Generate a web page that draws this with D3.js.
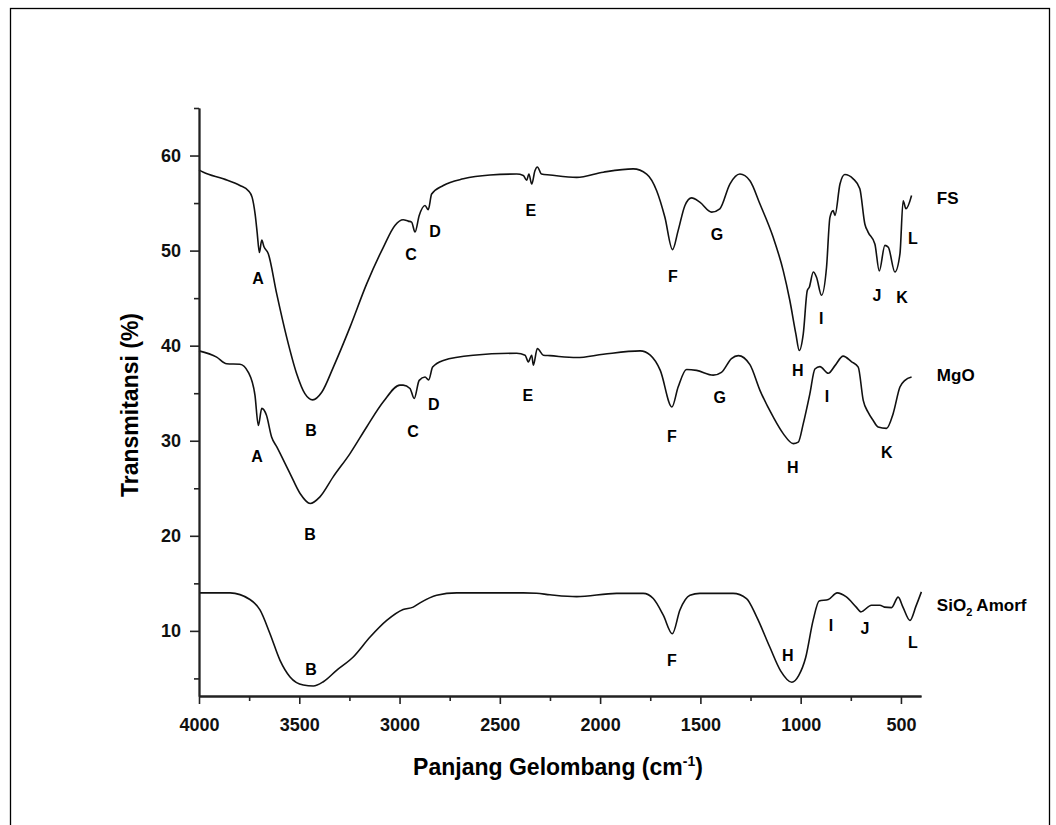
<!DOCTYPE html>
<html>
<head>
<meta charset="utf-8">
<script src="https://cdn.jsdelivr.net/npm/d3@7"></script>
<style>
  body { margin: 0; background: #fff; }
  svg { display: block; font-family: "Liberation Sans", Arial, sans-serif; }
</style>
</head>
<body>
<div id="chart"></div>
<script>
// ---------------- data (wavenumber cm-1, transmittance %) ----------------
var fsData = [
  [4000,58.5],[3978,58.25],[3879,57.55],[3796,56.85],[3754,56.3],[3735,55.6],[3720,53.8],[3710,51.9],
  [3699,49.8],[3687,51.1],[3676,50.4],[3655,49.7],[3613,45.5],[3563,40.9],[3513,37.05],
  [3472,34.95],[3433,34.3],[3388,35.1],[3330,37.75],[3247,41.95],[3164,46.5],[3081,50.35],
  [3023,52.65],[2982,53.25],[2957,53.1],[2940,53.0],[2923,51.95],[2902,53.7],[2873,54.75],
  [2857,54.3],[2840,55.95],[2782,56.85],[2682,57.55],[2549,57.95],[2416,58.05],[2383,57.9],
  [2366,57.4],[2355,58.05],[2341,57.0],[2325,58.4],[2313,58.8],[2292,58.05],[2250,57.95],
  [2117,57.7],[1984,58.25],[1835,58.6],[1768,58.05],[1718,56.3],[1677,53.5],[1639,50.1],
  [1611,52.1],[1577,54.75],[1544,55.55],[1503,55.1],[1444,54.05],[1403,54.4],[1353,57.0],
  [1303,58.05],[1253,57.35],[1203,54.9],[1137,51.4],[1087,47.9],[1054,44.75],[1024,41.25],
  [1007,39.5],[987,41.25],[967,45.8],[957,46.15],[937,47.75],[921,47.2],[896,45.3],
  [871,48.25],[854,53.5],[838,54.2],[829,53.7],[804,57.0],[780,58.0],[738,57.55],
  [705,56.5],[680,52.8],[664,51.95],[630,50.7],[608,47.85],[580,50.55],[563,50.35],
  [530,47.75],[505,49.65],[489,55.25],[475,54.4],[447,55.8]
];
var mgoData = [
  [4000,39.45],[3912,38.8],[3862,38.1],[3796,38.05],[3754,37.2],[3721,34.8],[3704,31.6],
  [3687,33.4],[3664,32.7],[3638,30.4],[3612,29.35],[3546,26.55],[3496,24.45],[3446,23.4],
  [3397,24.1],[3331,26.2],[3247,28.65],[3164,31.45],[3081,34.1],[2998,35.85],[2982,35.85],
  [2948,35.5],[2927,34.45],[2902,36.35],[2873,36.7],[2855,36.4],[2835,37.75],[2782,38.45],
  [2632,39.0],[2416,39.2],[2374,39.0],[2358,38.3],[2341,39.0],[2333,37.95],[2313,39.7],
  [2283,39.0],[2250,38.95],[2117,38.75],[1984,39.1],[1800,39.45],[1750,39.0],[1700,37.4],
  [1642,33.55],[1611,35.65],[1569,37.5],[1519,37.4],[1436,36.9],[1395,37.2],[1345,38.65],
  [1311,38.95],[1253,38.0],[1203,35.3],[1137,32.5],[1087,30.75],[1037,29.7],[1012,29.85],
  [987,31.8],[954,34.95],[929,37.55],[904,37.8],[862,37.1],[829,37.9],[788,38.9],
  [746,38.3],[713,37.75],[688,34.25],[664,33.0],[639,32.15],[614,31.45],[572,31.3],
  [539,32.85],[505,35.65],[480,36.35],[447,36.7]
];
var sio2Data = [
  [4000,14.0],[3845,14.0],[3746,13.3],[3696,12.2],[3646,9.7],[3596,6.9],[3546,5.15],
  [3480,4.3],[3430,4.2],[3380,4.65],[3314,5.85],[3231,7.25],[3147,9.35],[3064,11.1],
  [2982,12.25],[2932,12.5],[2898,12.95],[2815,13.75],[2715,14.0],[2383,14.0],[2317,13.95],
  [2250,13.8],[2117,13.6],[1918,13.95],[1785,13.95],[1735,13.4],[1685,11.65],[1640,9.7],
  [1602,12.2],[1552,13.75],[1503,13.95],[1337,13.95],[1270,13.4],[1220,11.5],[1154,8.3],
  [1100,5.8],[1044,4.6],[1010,5.3],[975,7.2],[938,11.1],[908,13.15],[862,13.3],[818,14.0],
  [774,13.6],[723,12.5],[700,12.0],[647,12.7],[605,12.7],[582,12.5],[547,12.45],
  [514,13.55],[490,12.5],[455,11.1],[425,12.6],[398,14.1]
];

// peak letters: [letter, wavenumber, transmittance]
var fsPeaks = [["A",3706,47.1],["B",3442,31.1],["C",2943,49.6],["D",2823,52.06],["E",2345,54.27],
  ["F",1637,47.33],["G",1417,51.75],["H",1014,37.44],["I",897,42.91],["J",620,45.33],
  ["K",495,45.12],["L",441,51.33]];
var mgoPeaks = [["A",3711,28.39],["B",3447,20.19],["C",2933,31.02],["D",2829,33.86],["E",2360,34.81],
  ["F",1642,30.5],["G",1403,34.6],["H",1039,27.24],["I",869,34.71],["K",570,28.82]];
var sio2Peaks = [["B",3442,5.99],["F",1642,6.94],["H",1064,7.46],["I",849,10.62],["J",680,10.3],["L",441,8.83]];

// series names: [name, wavenumber, transmittance]
var seriesNames = [["FS",321,55.53],["MgO",321,36.9],["SiO2",321,12.72]];

var xTicks = [4000,3500,3000,2500,2000,1500,1000,500];
var xMinor = [3750,3250,2750,2250,1750,1250,750];
var yTicks = [10,20,30,40,50,60];
var yMinor = [5,15,25,35,45,55,65];

// ---------------- layout ----------------
var width = 1056, height = 825;
var svg = d3.select("#chart").append("svg")
    .attr("width", width)
    .attr("height", height);

// outer frame
svg.append("rect")
    .attr("x", 10.5).attr("y", 8.5)
    .attr("width", 1039).attr("height", 840)
    .attr("fill", "none").attr("stroke", "#000").attr("stroke-width", 1.3);

var x = d3.scaleLinear().domain([4000, 400]).range([199, 921]);
var y = d3.scaleLinear().domain([3.15, 65]).range([696, 108]);

var line = d3.line()
    .x(function(d){ return x(d[0]); })
    .y(function(d){ return y(d[1]); })
    .curve(d3.curveMonotoneX);

[fsData, mgoData, sio2Data].forEach(function(s){
    svg.append("path")
        .datum(s)
        .attr("d", line)
        .attr("fill", "none")
        .attr("stroke", "#111")
        .attr("stroke-width", 1.6)
        .attr("stroke-linejoin", "round");
});

// ---------------- axes ----------------
var fmt = d3.format("d");
var xAxis = svg.append("g").attr("transform", "translate(0,696)")
    .call(d3.axisBottom(x).tickValues(xTicks).tickFormat(fmt).tickSize(8).tickSizeOuter(0).tickPadding(14));
var xAxisMinor = svg.append("g").attr("transform", "translate(0,696)")
    .call(d3.axisBottom(x).tickValues(xMinor).tickSize(5).tickSizeOuter(0).tickFormat(""));
var yAxis = svg.append("g").attr("transform", "translate(199,0)")
    .call(d3.axisLeft(y).tickValues(yTicks).tickFormat(fmt).tickSize(9).tickSizeOuter(0).tickPadding(9));
var yAxisMinor = svg.append("g").attr("transform", "translate(199,0)")
    .call(d3.axisLeft(y).tickValues(yMinor).tickSize(5).tickSizeOuter(0).tickFormat(""));

[xAxis, xAxisMinor, yAxis, yAxisMinor].forEach(function(g){
    g.select(".domain").attr("stroke", "#222").attr("stroke-width", 1.8);
    g.selectAll(".tick line").attr("stroke", "#222").attr("stroke-width", 1.6);
    g.selectAll(".tick text")
        .attr("fill", "#111")
        .style("font-size", "18px")
        .style("font-weight", "bold")
        .style("font-family", "Liberation Sans, Arial, sans-serif");
});

// axis titles
svg.append("text")
    .attr("transform", "translate(138,405) rotate(-90)")
    .attr("text-anchor", "middle")
    .style("font-size", "23px")
    .style("font-weight", "bold")
    .text("Transmitansi (%)");

var xt = svg.append("text")
    .attr("x", 558).attr("y", 775)
    .attr("text-anchor", "middle")
    .style("font-size", "23px")
    .style("font-weight", "bold");
xt.append("tspan").text("Panjang Gelombang (cm");
xt.append("tspan").attr("dy", -9).style("font-size", "14px").text("-1");
xt.append("tspan").attr("dy", 9).text(")");

// ---------------- peak letters ----------------
[fsPeaks, mgoPeaks, sio2Peaks].forEach(function(p){
    svg.append("g").selectAll("text")
        .data(p)
        .join("text")
        .attr("x", function(d){ return x(d[1]); })
        .attr("y", function(d){ return y(d[2]); })
        .attr("dy", "0.36em")
        .attr("text-anchor", "middle")
        .style("font-size", "16px")
        .style("font-weight", "bold")
        .text(function(d){ return d[0]; });
});

// series names
seriesNames.forEach(function(d){
    var t = svg.append("text")
        .attr("x", x(d[1])).attr("y", y(d[2]))
        .attr("dy", "0.36em")
        .style("font-size", "17px")
        .style("font-weight", "bold");
    if (d[0] == "SiO2") {
        t.append("tspan").text("SiO");
        t.append("tspan").attr("dy", 5).style("font-size", "11px").text("2");
        t.append("tspan").attr("dy", -5).text(" Amorf");
    } else {
        t.text(d[0]);
    }
});
</script>
</body>
</html>
